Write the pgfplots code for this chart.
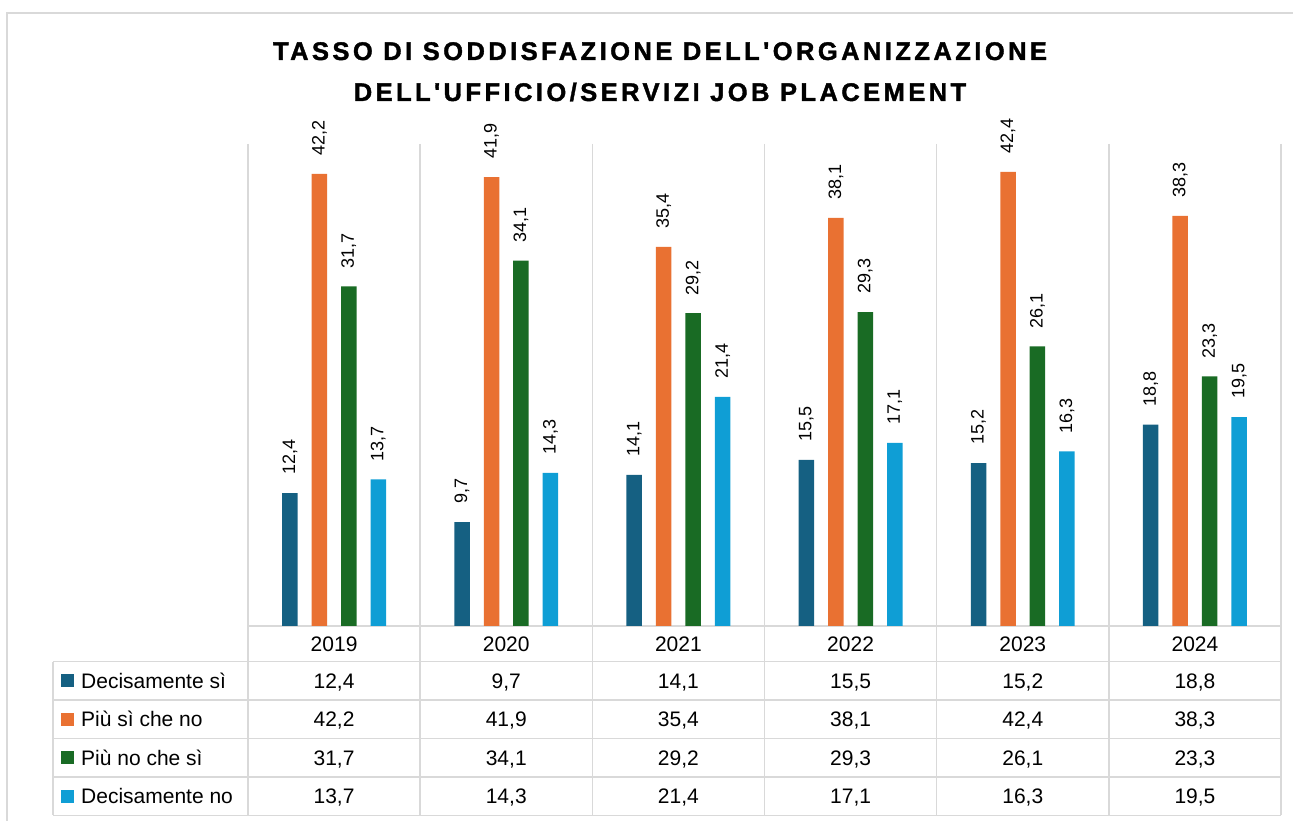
\documentclass[border=0pt]{standalone}
\usepackage{pgfplots}
\pgfplotsset{compat=1.18}
\usepackage{fontspec}
\setmainfont{Liberation Sans}
\newfontfamily\titlefont{Liberation Sans}[LetterSpace=13.5,BoldFeatures={FakeBold=1.5}]
\definecolor{c1}{HTML}{156082}
\definecolor{c2}{HTML}{E97132}
\definecolor{c3}{HTML}{196B24}
\definecolor{c4}{HTML}{0F9ED5}
\definecolor{gridc}{HTML}{D9D9D9}
\begin{document}
\begin{tikzpicture}
\useasboundingbox (0,0) rectangle (1293pt,821pt);
\begin{scope}[shift={(0pt,821pt)},x=1pt,y=-1pt]
  % outer frame
  \draw[gridc,line width=2pt] (7,822) -- (7,13) -- (1294,13);
  % category separators
  \foreach \x in {248,420.17,592.33,764.5,936.67,1108.83,1281}
    \draw[gridc,line width=1.5pt] (\x,144) -- (\x,815.3);
  % table horizontal lines
  \draw[gridc,line width=1.5pt] (248,626) -- (1281,626);
  \foreach \y in {661.7,700,738.7,777,815.3}
    \draw[gridc,line width=1.5pt] (53,\y) -- (1281,\y);
  \draw[gridc,line width=1.5pt] (53,661.7) -- (53,815.3);
  % title
  \node[anchor=base,inner sep=0pt,font=\titlefont\bfseries\fontsize{25.5}{28}\selectfont] at (660,60) {TASSO DI SODDISFAZIONE DELL'ORGANIZZAZIONE};
  \node[anchor=base,inner sep=0pt,font=\titlefont\bfseries\fontsize{25.5}{28}\selectfont] at (660,101) {DELL'UFFICIO/SERVIZI JOB PLACEMENT};
  % years
  \foreach \yr [count=\i from 0] in {2019,2020,2021,2022,2023,2024}
    \node[anchor=base,inner sep=0pt,font=\fontsize{21}{24}\selectfont] at (334.08+172.17*\i,651.5) {\yr};
  % legend keys and series names
  \fill[c1] (61,674.3) rectangle (74,687.3);
  \fill[c2] (61,712.8) rectangle (74,725.8);
  \fill[c3] (61,751.3) rectangle (74,764.3);
  \fill[c4] (61,789.6) rectangle (74,802.6);
  \node[anchor=base west,inner sep=0pt,font=\fontsize{21}{24}\selectfont] at (81,688.4) {Decisamente sì};
  \node[anchor=base west,inner sep=0pt,font=\fontsize{21}{24}\selectfont] at (81,726.9) {Più sì che no};
  \node[anchor=base west,inner sep=0pt,font=\fontsize{21}{24}\selectfont] at (81,765.4) {Più no che sì};
  \node[anchor=base west,inner sep=0pt,font=\fontsize{21}{24}\selectfont] at (81,803.7) {Decisamente no};
  % table values
  \foreach \v [count=\i from 0] in {{12,4},{9,7},{14,1},{15,5},{15,2},{18,8}}
    \node[anchor=base,inner sep=0pt,font=\fontsize{21}{24}\selectfont] at (334.08+172.17*\i,688.4) {\v};
  \foreach \v [count=\i from 0] in {{42,2},{41,9},{35,4},{38,1},{42,4},{38,3}}
    \node[anchor=base,inner sep=0pt,font=\fontsize{21}{24}\selectfont] at (334.08+172.17*\i,726.9) {\v};
  \foreach \v [count=\i from 0] in {{31,7},{34,1},{29,2},{29,3},{26,1},{23,3}}
    \node[anchor=base,inner sep=0pt,font=\fontsize{21}{24}\selectfont] at (334.08+172.17*\i,765.4) {\v};
  \foreach \v [count=\i from 0] in {{13,7},{14,3},{21,4},{17,1},{16,3},{19,5}}
    \node[anchor=base,inner sep=0pt,font=\fontsize{21}{24}\selectfont] at (334.08+172.17*\i,803.7) {\v};
\end{scope}
\begin{axis}[
  at={(248pt,195pt)}, anchor=south west,
  scale only axis, width=1033pt, height=482pt,
  xmin=-0.5, xmax=5.5, ymin=0, ymax=45,
  hide axis, clip=false,
  ybar, bar width=15.5pt,
  nodes near coords={\pgfmathprintnumber[fixed,fixed zerofill,precision=1,use comma,assume math mode=true]{\pgfplotspointmeta}},
  every node near coord/.append style={rotate=90, anchor=west, font=\fontsize{18}{20}\selectfont, inner xsep=18pt, inner ysep=0pt, text=black},
]
\addplot[ybar, bar shift=-44.2pt, fill=c1, draw=none] coordinates {(0,12.4) (1,9.7) (2,14.1) (3,15.5) (4,15.2) (5,18.8)};
\addplot[ybar, bar shift=-14.7pt, fill=c2, draw=none] coordinates {(0,42.2) (1,41.9) (2,35.4) (3,38.1) (4,42.4) (5,38.3)};
\addplot[ybar, bar shift=14.7pt, fill=c3, draw=none] coordinates {(0,31.7) (1,34.1) (2,29.2) (3,29.3) (4,26.1) (5,23.3)};
\addplot[ybar, bar shift=44.2pt, fill=c4, draw=none] coordinates {(0,13.7) (1,14.3) (2,21.4) (3,17.1) (4,16.3) (5,19.5)};
\end{axis}
\end{tikzpicture}
\end{document}
